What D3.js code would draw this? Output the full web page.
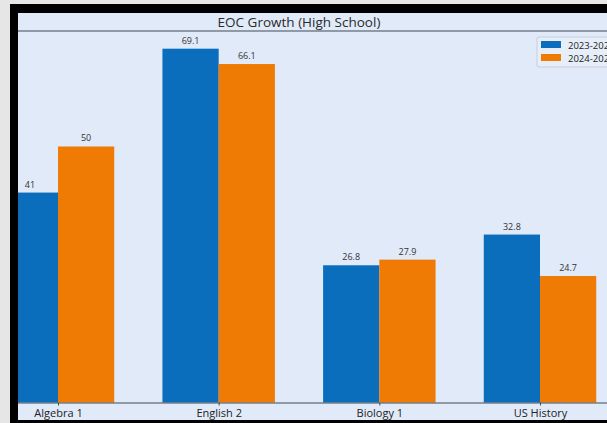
<!DOCTYPE html>
<html>
<head>
<meta charset="utf-8">
<style>
  body { margin: 0; background: #e6e6e6; }
  svg { display: block; font-family: "Open Sans", Roboto, sans-serif; }
</style>
</head>
<body>
<svg width="607" height="423"></svg>
<script src="https://cdn.jsdelivr.net/npm/d3@7"></script>
<script>

var subjects = ["Algebra 1", "English 2", "Biology 1", "US History"];
var years = ["2023-2024", "2024-2025"];
var growth2324 = [41, 69.1, 26.8, 32.8];
var growth2425 = [50, 66.1, 27.9, 24.7];
var colors = ["#0b6ebc", "#ef7a04"];

var series = [growth2324, growth2425];

var svg = d3.select("svg");

// screenshot frame
svg.append("rect").attr("width", 607).attr("height", 423).attr("fill", "#e6e6e6");
svg.append("rect").attr("x", 10).attr("y", 4).attr("width", 597).attr("height", 419).attr("fill", "#000");

var inner = {left: 18, top: 13, right: 607, bottom: 420};

svg.append("defs").append("clipPath").attr("id", "clip")
  .append("rect")
    .attr("x", inner.left).attr("y", inner.top)
    .attr("width", inner.right - inner.left).attr("height", inner.bottom - inner.top);

var g = svg.append("g").attr("clip-path", "url(#clip)");

g.append("rect")
    .attr("x", inner.left).attr("y", inner.top)
    .attr("width", inner.right - inner.left).attr("height", inner.bottom - inner.top)
    .attr("fill", "#e1eaf8");

var plotTop = 31, plotBottom = 402.5;

// group index -> pixel, bar width is 0.35 of a group
var x = d3.scaleLinear().domain([0, 3]).range([58, 540]);
var barW = 0.35;

var y = d3.scaleLinear()
    .domain([0, d3.max(series, function(s) { return d3.max(s); }) * 1.05])
    .range([plotBottom, plotTop]);

// bars
series.forEach(function(s, k) {
  var grp = g.append("g");
  grp.selectAll("rect")
    .data(s)
    .enter().append("rect")
      .attr("x", function(d, i) { return x(i + (k - 1) * barW); })
      .attr("y", function(d) { return y(d); })
      .attr("width", x(barW) - x(0))
      .attr("height", function(d) { return y(0) - y(d); })
      .attr("fill", colors[k]);

  grp.selectAll("text")
    .data(s)
    .enter().append("text")
      .attr("x", function(d, i) { return x(i + (k - 0.5) * barW); })
      .attr("y", function(d) { return y(d) - 5; })
      .attr("text-anchor", "middle")
      .attr("font-size", 9)
      .attr("fill", "#333")
      .text(function(d) { return d; });
});

// top spine
g.append("line")
    .attr("x1", inner.left).attr("x2", inner.right)
    .attr("y1", plotTop).attr("y2", plotTop)
    .attr("stroke", "#3f4b55").attr("stroke-width", 1);

// x axis
var xAxis = g.append("g")
    .attr("transform", "translate(0," + plotBottom + ")")
    .call(d3.axisBottom(x).tickValues([0, 1, 2, 3])
      .tickFormat(function(i) { return subjects[i]; })
      .tickSize(3).tickSizeOuter(0).tickPadding(4));
xAxis.select(".domain").attr("d", "M" + inner.left + ",0.5H" + inner.right).attr("stroke", "#3f4b55");
xAxis.selectAll(".tick line").attr("stroke", "#3f4b55");
xAxis.selectAll("text").attr("font-size", 11).attr("fill", "#222").attr("font-family", "'Open Sans', sans-serif");

// title
g.append("text")
    .attr("x", 299).attr("y", 27)
    .attr("text-anchor", "middle")
    .attr("font-size", 13.5)
    .attr("fill", "#2a2a2a")
    .text("EOC Growth (High School)");

// legend
var legend = g.append("g").attr("transform", "translate(537,37)");
legend.append("rect")
    .attr("width", 100).attr("height", 30).attr("rx", 2)
    .attr("fill", "#e6eefa").attr("stroke", "#c9ced6");

var item = legend.selectAll(".item")
  .data(years)
  .enter().append("g")
    .attr("transform", function(d, i) { return "translate(0," + (i * 13) + ")"; });
item.append("rect")
    .attr("x", 4).attr("y", 4).attr("width", 20).attr("height", 7)
    .attr("fill", function(d, i) { return colors[i]; });
item.append("text")
    .attr("x", 31).attr("y", 11.5)
    .attr("font-size", 9.5)
    .attr("fill", "#222")
    .text(function(d) { return d; });

</script>
</body>
</html>
